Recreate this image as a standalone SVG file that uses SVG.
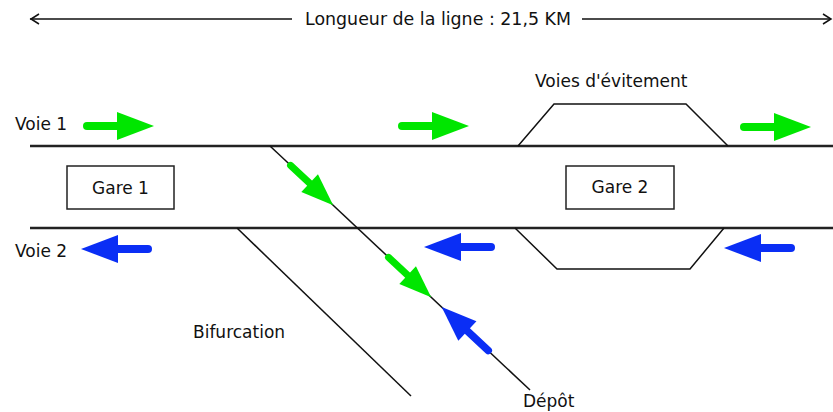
<svg xmlns="http://www.w3.org/2000/svg" xmlns:xlink="http://www.w3.org/1999/xlink" width="833" height="412" viewBox="0 0 833 412">
  <style>
    text { font-family: "DejaVu Sans", "Liberation Sans", sans-serif; font-size: 17px; fill: #111; }
    .track { stroke: #222; stroke-width: 2.5; fill: none; }
    .thin { stroke: #111; stroke-width: 1.5; fill: none; }
    .box { fill: #fff; stroke: #222; stroke-width: 1.5; }
    .green { fill: #00e600; stroke: #00e600; }
    .blue { fill: #0a2ef5; stroke: #0a2ef5; }
  </style>
  <defs>
    <g id="arrow">
      <path d="M4,0 H36" stroke-width="8" stroke-linecap="round" fill="none"/>
      <polygon points="34,-14 71,0 34,14" stroke="none"/>
    </g>
  </defs>
  <rect width="833" height="412" fill="#fff"/>

  <g id="length">
    <path class="thin" d="M30,19 H292 M582,19 H831"/>
    <path class="thin" d="M39,14 L31,19 L39,24 M823,14 L831,19 L823,24"/>
    <text x="438" y="25" text-anchor="middle" textLength="266" lengthAdjust="spacingAndGlyphs">Longueur de la ligne : 21,5 KM</text>
  </g>

  <g id="connectors">
    <path class="track" d="M30,146 H833"/>
    <path class="track" d="M30,228 H833"/>
    <path class="thin" d="M270,146 L530,390"/>
    <path class="thin" d="M237,228 L411,396"/>
    <path class="thin" d="M518,146 L554,104 H686 L728,146"/>
    <path class="thin" d="M515,228 L557,269 H690 L724,228"/>
  </g>

  <g id="voie1">
    <text x="15" y="130">Voie 1</text>
  </g>
  <g id="voie2">
    <text x="15" y="257">Voie 2</text>
  </g>
  <g id="gare1">
    <rect class="box" x="67" y="166" width="107" height="43"/>
    <text x="120.5" y="194" text-anchor="middle">Gare 1</text>
  </g>
  <g id="gare2">
    <rect class="box" x="566" y="166" width="108" height="43"/>
    <text x="620" y="193" text-anchor="middle">Gare 2</text>
  </g>
  <g id="evitement">
    <text x="535" y="87">Voies d'évitement</text>
  </g>
  <g id="bifurcation">
    <text x="193" y="338">Bifurcation</text>
  </g>
  <g id="depot">
    <text x="523" y="407">Dépôt</text>
  </g>

  <g id="arrows">
    <use xlink:href="#arrow" class="green" transform="translate(83,126)"/>
    <use xlink:href="#arrow" class="green" transform="translate(398,126)"/>
    <use xlink:href="#arrow" class="green" transform="translate(740,127)"/>
    <use xlink:href="#arrow" class="green" transform="translate(288,163) rotate(43) scale(0.87)"/>
    <use xlink:href="#arrow" class="green" transform="translate(386,255) rotate(43) scale(0.87)"/>
    <use xlink:href="#arrow" class="blue" transform="translate(152,249) rotate(180)"/>
    <use xlink:href="#arrow" class="blue" transform="translate(495,247) rotate(180)"/>
    <use xlink:href="#arrow" class="blue" transform="translate(795,248) rotate(180)"/>
    <use xlink:href="#arrow" class="blue" transform="translate(491,353) rotate(223) scale(0.95)"/>
  </g>
</svg>
